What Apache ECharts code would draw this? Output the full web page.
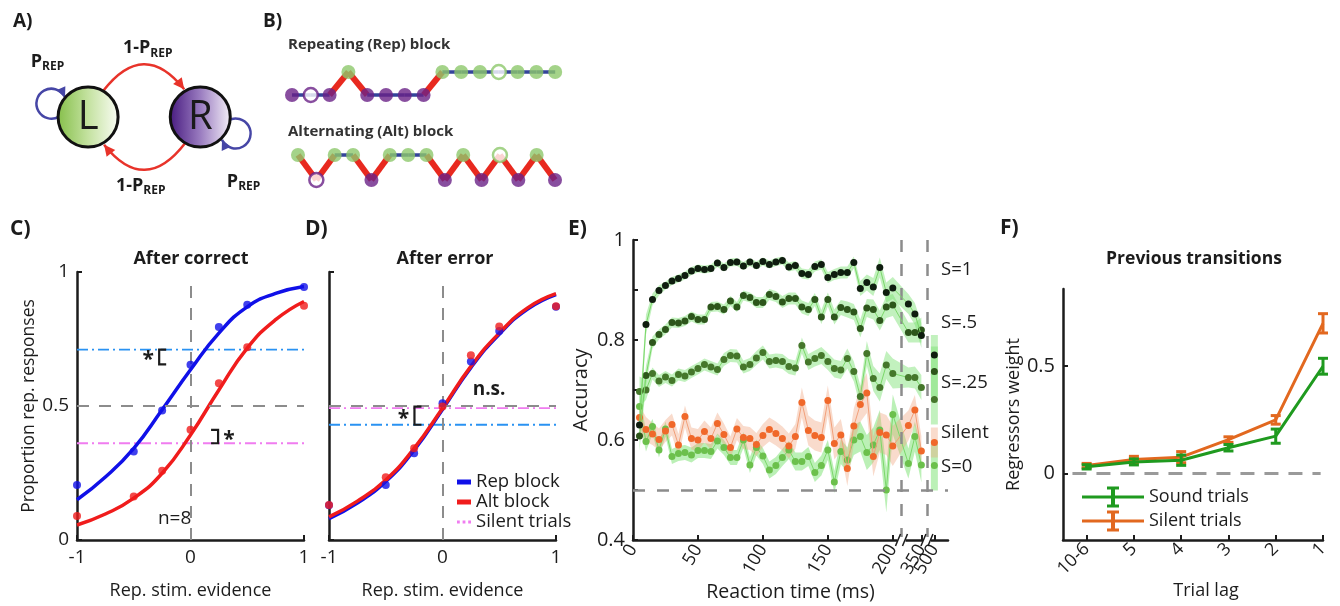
<!DOCTYPE html>
<html>
<head>
<meta charset="UTF-8">
<title>Transition task figure</title>
<style>
  html, body { margin: 0; padding: 0; background: #fff; }
  #main { width: 1340px; height: 606px; }
</style>
</head>
<body>
<div id="main"></div>
<script src="https://cdn.jsdelivr.net/npm/echarts@6/dist/echarts.min.js"></script>
<script>
// ---------- data ----------
// A) two-state Markov diagram
var aNodes = ['L', 'R'];

// B) example trial sequences (L = left/green, R = right/purple); silent trials drawn hollow
var repSeq = ['R','R','R','L','R','R','R','R','L','L','L','L','L','L','L'];
var repSilent = [1, 11];
var altSeq = ['L','R','L','L','R','L','L','L','R','L','R','L','R','L','R'];
var altSilent = [1, 11];

// C/D) psychometric curves
var stimX = [-1, -0.5, -0.25, 0, 0.25, 0.5, 1];
var fitX = [-1, -0.75, -0.5, -0.25, 0, 0.25, 0.5, 0.75, 1];
var cRepDots = [0.205, 0.33, 0.483, 0.654, 0.795, 0.878, 0.944];
var cAltDots = [0.09, 0.162, 0.258, 0.411, 0.585, 0.719, 0.874];
var cRepFit = [0.15, 0.235, 0.342, 0.486, 0.635, 0.772, 0.87, 0.92, 0.946];
var cAltFit = [0.056, 0.097, 0.156, 0.249, 0.392, 0.56, 0.716, 0.822, 0.89];
var cSilentRep = 0.71, cSilentAlt = 0.361;
var dRepDots = [0.13, 0.205, 0.324, 0.51, 0.666, 0.78, 0.87];
var dAltDots = [0.131, 0.234, 0.342, 0.498, 0.689, 0.797, 0.872];
var dRepFit = [0.08, 0.138, 0.218, 0.335, 0.487, 0.643, 0.768, 0.862, 0.916];
var dAltFit = [0.086, 0.145, 0.224, 0.342, 0.492, 0.648, 0.772, 0.866, 0.919];
var dSilentRep = 0.43, dSilentAlt = 0.492;
// significance brackets: [x, low, high, opening side]
var cBrackets = [[-0.276, 0.655, 0.71, 1], [0.243, 0.361, 0.411, -1]];
var dBrackets = [[-0.247, 0.43, 0.498, 1]];
var cNotes = [[-0.14, 0.08]], cNoteText = ['n=8'];
var dNotes = [[0.41, 0.56]], dNoteText = ['n.s.'];

// E) accuracy vs reaction time (last four bins sit after the axis breaks)
var eX = [5,10,15,20,25,30,35,40,45,50,55,60,65,70,75,80,85,90,95,100,
          105,110,115,120,125,130,135,140,145,150,155,160,165,170,175,180,185,190,195,200,
          212,217,222,232];
var eTickPos = [0, 50, 100, 150, 200, 222, 232];
var eTickText = ['0', '50', '100', '150', '200', '350', '500'];
var eBreaks = [206.7, 226.3];
var eS1 = [0.63,0.831,0.881,0.899,0.909,0.918,0.923,0.929,0.938,0.943,
           0.941,0.943,0.954,0.945,0.955,0.956,0.948,0.956,0.949,0.957,
           0.951,0.956,0.959,0.946,0.949,0.933,0.931,0.947,0.951,0.925,
           0.931,0.935,0.935,0.955,0.903,0.915,0.906,0.945,0.895,0.904,
           0.872,0.852,0.809,0.77];
var eS5 = [0.608,0.729,0.795,0.811,0.821,0.835,0.834,0.838,0.847,0.841,
           0.841,0.866,0.867,0.861,0.878,0.866,0.889,0.885,0.875,0.875,
           0.891,0.887,0.876,0.883,0.883,0.866,0.861,0.881,0.846,0.881,
           0.846,0.865,0.861,0.856,0.823,0.864,0.861,0.839,0.866,0.87,
           0.815,0.815,0.82,0.737];
var eS25 = [0.697,0.70,0.733,0.718,0.726,0.719,0.731,0.728,0.736,0.743,
            0.751,0.746,0.741,0.761,0.769,0.768,0.746,0.751,0.764,0.775,
            0.757,0.759,0.757,0.747,0.744,0.789,0.756,0.763,0.769,0.757,
            0.743,0.74,0.763,0.737,0.687,0.773,0.723,0.705,0.75,0.733,
            0.725,0.725,0.705,0.681];
var eSil = [0.645,0.621,0.612,0.601,0.618,0.631,0.59,0.647,0.603,0.60,
            0.617,0.603,0.633,0.611,0.585,0.622,0.605,0.603,0.591,0.609,
            0.621,0.613,0.603,0.588,0.607,0.675,0.619,0.609,0.605,0.679,
            0.593,0.61,0.543,0.628,0.671,0.694,0.567,0.615,0.61,0.588,
            0.629,0.66,0.578,0.595];
var eS0 = [0.667,0.597,0.627,0.58,0.622,0.567,0.573,0.575,0.57,0.579,
           0.579,0.577,0.598,0.585,0.565,0.565,0.60,0.55,0.585,0.568,
           0.54,0.549,0.565,0.58,0.557,0.557,0.567,0.535,0.549,0.58,
           0.516,0.577,0.56,0.60,0.607,0.575,0.59,0.62,0.50,0.651,
           0.553,0.607,0.55,0.549];
// s.e.m. (band half widths)
var eS1Err = [0.03,0.02,0.012,0.01,0.008,0.008,0.008,0.008,0.008,0.008,
              0.008,0.008,0.008,0.008,0.008,0.008,0.008,0.008,0.008,0.008,
              0.008,0.008,0.008,0.009,0.009,0.01,0.01,0.01,0.01,0.011,
              0.011,0.012,0.012,0.012,0.015,0.016,0.018,0.02,0.02,0.022,
              0.02,0.022,0.025,0.04];
var eS5Err = [0.03,0.02,0.012,0.01,0.01,0.01,0.01,0.01,0.01,0.01,
              0.01,0.01,0.01,0.01,0.01,0.01,0.01,0.01,0.011,0.011,
              0.011,0.011,0.012,0.012,0.012,0.013,0.013,0.013,0.014,0.014,
              0.015,0.015,0.016,0.016,0.018,0.018,0.02,0.02,0.022,0.022,
              0.02,0.02,0.025,0.05];
var eS25Err = [0.03,0.02,0.012,0.012,0.012,0.012,0.012,0.012,0.012,0.012,
               0.012,0.012,0.012,0.013,0.013,0.013,0.013,0.013,0.014,0.014,
               0.014,0.014,0.015,0.015,0.015,0.016,0.016,0.016,0.017,0.017,
               0.018,0.018,0.02,0.02,0.022,0.025,0.025,0.028,0.028,0.03,
               0.02,0.022,0.025,0.05];
var eSilErr = [0.025,0.025,0.022,0.022,0.022,0.022,0.022,0.022,0.022,0.022,
               0.022,0.022,0.022,0.022,0.022,0.022,0.023,0.023,0.023,0.023,
               0.024,0.024,0.024,0.025,0.025,0.03,0.03,0.03,0.03,0.03,
               0.032,0.032,0.035,0.035,0.035,0.04,0.04,0.04,0.04,0.04,
               0.03,0.03,0.03,0.03];
var eS0Err = [0.03,0.02,0.015,0.015,0.015,0.015,0.015,0.015,0.015,0.015,
              0.015,0.015,0.015,0.015,0.015,0.015,0.016,0.016,0.016,0.016,
              0.017,0.017,0.017,0.018,0.018,0.018,0.019,0.019,0.02,0.02,
              0.022,0.025,0.025,0.03,0.03,0.035,0.035,0.04,0.045,0.04,
              0.03,0.03,0.035,0.05];
var eRuns = [[0, 42], [43, 43]];
var eLabels = ['S=1', 'S=.5', 'S=.25', 'Silent', 'S=0'];

// F) regression weights by trial lag
var fLag = ['10-6', '5', '4', '3', '2', '1'];
var fSound = [0.031, 0.054, 0.062, 0.12, 0.174, 0.5];
var fSoundErr = [0.01, 0.014, 0.024, 0.015, 0.033, 0.037];
var fSilent = [0.037, 0.065, 0.076, 0.158, 0.25, 0.70];
var fSilentErr = [0.01, 0.015, 0.026, 0.013, 0.02, 0.045];

// ---------- style ----------
var FONT = "'Open Sans', 'Liberation Sans', sans-serif";
var INK = '#1c1c1c';
var BLUE = '#1010e8', RED = '#f01c1c', SKY = '#2a92f2', PINK = '#f07cf0';
var GRAY = '#8c8c8c';
var GREEN = '#8dc86c', PURPLE = '#6a2287';
var F_GREEN = '#1f9a1f', F_ORANGE = '#e2681f';

var chart = echarts.init(document.getElementById('main'));

function axis(o) {
  var base = {
    type: 'value',
    nameLocation: 'middle',
    axisLine: {onZero: false, lineStyle: {color: INK, width: 2.5}},
    axisTick: {inside: true, length: 5, lineStyle: {color: INK, width: 2}},
    axisLabel: {color: INK, fontSize: 19, fontFamily: FONT, margin: 8, hideOverlap: false},
    splitLine: {show: false},
    nameTextStyle: {color: INK, fontSize: 18, fontFamily: FONT}
  };
  var out = {};
  Object.keys(base).forEach(function (k) { out[k] = base[k]; });
  Object.keys(o).forEach(function (k) {
    if (base[k] && typeof base[k] === 'object' && typeof o[k] === 'object') {
      out[k] = Object.assign({}, base[k], o[k]);
    } else {
      out[k] = o[k];
    }
  });
  return out;
}
function hidden(g, min, max) {
  return {gridIndex: g, type: 'value', min: min, max: max, show: false};
}
function txt(s, x, y, size, bold, align) {
  return {
    type: 'text', x: x, y: y, silent: true,
    style: {text: s, fontSize: size, fontWeight: bold ? 'bold' : 'normal', fontFamily: FONT,
            fill: INK, align: align || 'left', verticalAlign: 'middle'}
  };
}
function arrowHead(tip, dir, color, len, half) {
  var d = Math.sqrt(dir[0] * dir[0] + dir[1] * dir[1]);
  var ux = dir[0] / d, uy = dir[1] / d;
  var bx = tip[0] - ux * len, by = tip[1] - uy * len;
  return {type: 'polygon', shape: {points: [tip, [bx - uy * half, by + ux * half], [bx + uy * half, by - ux * half]]},
          style: {fill: color}};
}
function subLabel(main, x, y) {
  return {type: 'text', x: x, y: y,
    style: {text: '{m|' + main + '}{s|REP}', align: 'center', verticalAlign: 'middle', fill: INK,
      rich: {m: {fontSize: 18, fontWeight: 'bold', fontFamily: FONT, fill: INK},
             s: {fontSize: 12, fontWeight: 'bold', fontFamily: FONT, fill: INK, padding: [10, 0, 0, 0]}}}};
}
function eLabelFmt(v) { return eTickText[eTickPos.indexOf(v)]; }

// ---------- A) diagram ----------
function renderDiagram(params, api) {
  var i = params.dataIndex;
  var p = api.coord([api.value(0), 0]);
  var q = api.coord([1 - api.value(0), 0]);
  var r = 30, rad = Math.PI / 180;
  var s = i === 0 ? -1 : 1;
  var kids = [];
  // transition arc to the other state
  var a = i === 0 ? -60 * rad : 120 * rad, b = Math.PI - a;
  var st = [p[0] + r * Math.cos(a), p[1] + r * Math.sin(a)];
  var en = [q[0] + (r + 2) * Math.cos(b), q[1] + (r + 2) * Math.sin(b)];
  var cp = [(st[0] + en[0]) / 2, (st[1] + en[1]) / 2 + s * 52];
  kids.push({type: 'bezierCurve', shape: {x1: st[0], y1: st[1], x2: en[0], y2: en[1], cpx1: cp[0], cpy1: cp[1]},
             style: {stroke: '#e8332a', lineWidth: 2.5, fill: null}});
  kids.push(arrowHead(en, [en[0] - cp[0], en[1] - cp[1]], '#e8332a', 11, 5.5));
  var apex = [(st[0] + en[0]) / 2, (st[1] + en[1]) / 2 + s * 26];
  kids.push(subLabel('1-P', apex[0] - s * 4, apex[1] + s * 16));
  // self loop
  var c = (i === 0 ? 200 : 25) * rad;
  var lc = [p[0] + (r + 9) * Math.cos(c), p[1] + (r + 9) * Math.sin(c)];
  var sa = (i === 0 ? 60 : 240), ea = sa + 275;
  kids.push({type: 'arc', shape: {cx: lc[0], cy: lc[1], r: 15, startAngle: sa * rad, endAngle: ea * rad, clockwise: true},
             style: {stroke: '#4646a6', lineWidth: 2.5, fill: null}});
  var e = ea * rad;
  kids.push(arrowHead([lc[0] + 15 * Math.cos(e), lc[1] + 15 * Math.sin(e)], [-Math.sin(e), Math.cos(e)], '#4646a6', 10, 5));
  kids.push(subLabel('P', lc[0] + (i === 0 ? -4 : 8), lc[1] + (i === 0 ? -42 : 48)));
  // state node
  var grad = i === 0
    ? new echarts.graphic.LinearGradient(0, 0, 1, 0, [{offset: 0, color: '#84be48'}, {offset: 0.5, color: '#c4e2a0'}, {offset: 1, color: '#fbfdf7'}])
    : new echarts.graphic.LinearGradient(0, 0, 1, 0, [{offset: 0, color: '#45187e'}, {offset: 0.5, color: '#9a7cc0'}, {offset: 1, color: '#f7f3fa'}]);
  kids.push({type: 'circle', shape: {cx: p[0], cy: p[1], r: r}, style: {fill: grad, stroke: '#111', lineWidth: 3}});
  kids.push({type: 'text', x: p[0], y: p[1] + 1,
             style: {text: api.value(2), fontSize: 40, fontFamily: FONT, fill: '#1a1a1a', align: 'center', verticalAlign: 'middle'}});
  return {type: 'group', children: kids};
}

// ---------- B) sequences ----------
function side(d) { return d === 'L' ? 1 : 0; }
function seqLinks(seq) {
  return seq.slice(0, -1).map(function (d, i) { return [i, side(d), side(seq[i + 1])]; });
}
function renderLink(params, api) {
  var i = api.value(0), v1 = api.value(1), v2 = api.value(2);
  var p1 = api.coord([i, v1]), p2 = api.coord([i + 1, v2]);
  var same = v1 === v2;
  return {type: 'line', shape: {x1: p1[0], y1: p1[1], x2: p2[0], y2: p2[1]},
          style: same ? {stroke: '#34449a', lineWidth: 3.5} : {stroke: '#e8291f', lineWidth: 6}};
}
function seqDots(seq, silent) {
  return seq.map(function (d, i) {
    var col = d === 'L' ? GREEN : PURPLE;
    var hollow = silent.indexOf(i) >= 0;
    return {value: [i, side(d)],
            itemStyle: {color: hollow ? '#fff' : col, borderColor: col, borderWidth: hollow ? 2.5 : 0}};
  });
}

// ---------- helpers for C/D ----------
function pairs(xs, ys) { return xs.map(function (x, i) { return [x, ys[i]]; }); }
function renderBracket(params, api) {
  var x = api.value(0), lo = api.value(1), hi = api.value(2), dir = api.value(3);
  var p1 = api.coord([x, hi]), p2 = api.coord([x, lo]);
  var w = 7;
  return {type: 'group', children: [
    {type: 'polyline', shape: {points: [[p1[0] + dir * w, p1[1]], p1, p2, [p2[0] + dir * w, p2[1]]]},
     style: {stroke: INK, lineWidth: 2.2, fill: null}},
    {type: 'text', x: p1[0] - dir * 11, y: (p1[1] + p2[1]) / 2 + 3,
     style: {text: '*', fontSize: 21, fontWeight: 'bold', fontFamily: FONT, fill: INK, align: 'center', verticalAlign: 'middle'}}
  ]};
}
function noteRenderer(texts, size, bold) {
  return function (params, api) {
    var p = api.coord([api.value(0), api.value(1)]);
    return {type: 'text', x: p[0], y: p[1],
            style: {text: texts[params.dataIndex], fontSize: size, fontWeight: bold ? 'bold' : 'normal',
                    fontFamily: FONT, fill: INK, align: 'center', verticalAlign: 'middle'}};
  };
}
function psychSeries(g, repFit, altFit, repDots, altDots, silRep, silAlt) {
  var dashDot = [11, 4, 2, 4];
  return [
    {type: 'line', name: 'Silent trials (rep)', xAxisIndex: g, yAxisIndex: g, data: [[-1, silRep], [1, silRep]],
     showSymbol: false, silent: true, lineStyle: {color: SKY, width: 1.8, type: dashDot}, z: 2,
     markLine: {silent: true, symbol: 'none', label: {show: false},
       lineStyle: {color: GRAY, type: [12, 10], width: 2},
       data: [{yAxis: 0.5}, [{coord: [0, 0]}, {coord: [0, 0.95]}]]}},
    {type: 'line', name: 'Silent trials', xAxisIndex: g, yAxisIndex: g, data: [[-1, silAlt], [1, silAlt]],
     showSymbol: false, silent: true, lineStyle: {color: PINK, width: 1.8, type: dashDot}, z: 2},
    {type: 'line', name: 'Rep block', xAxisIndex: g, yAxisIndex: g, data: pairs(fitX, repFit), smooth: true,
     showSymbol: false, lineStyle: {color: BLUE, width: 3.5}, z: 3},
    {type: 'line', name: 'Alt block', xAxisIndex: g, yAxisIndex: g, data: pairs(fitX, altFit), smooth: true,
     showSymbol: false, lineStyle: {color: RED, width: 3.5}, z: 4},
    {type: 'scatter', xAxisIndex: g, yAxisIndex: g, data: pairs(stimX, repDots), symbolSize: 8,
     itemStyle: {color: BLUE}, z: 5},
    {type: 'scatter', xAxisIndex: g, yAxisIndex: g, data: pairs(stimX, altDots), symbolSize: 8,
     itemStyle: {color: RED}, z: 6}
  ];
}

// ---------- helpers for E ----------
function bandRenderer(vals, errs, color) {
  return function (params, api) {
    var kids = [];
    eRuns.forEach(function (run) {
      if (run[0] === run[1]) {
        var k = run[0];
        var t = api.coord([eX[k], vals[k] + errs[k]]), b = api.coord([eX[k], vals[k] - errs[k]]);
        kids.push({type: 'rect', shape: {x: t[0] - 3.5, y: t[1], width: 7, height: b[1] - t[1]}, style: {fill: color}});
        return;
      }
      var up = [], dn = [];
      for (var j = run[0]; j <= run[1]; j++) {
        up.push(api.coord([eX[j], vals[j] + errs[j]]));
        dn.unshift(api.coord([eX[j], vals[j] - errs[j]]));
      }
      kids.push({type: 'polygon', shape: {points: up.concat(dn)}, style: {fill: color}});
    });
    return {type: 'group', children: kids};
  };
}
function eLine(vals, lineColor, dotColor, z) {
  var last = eRuns[1][0];
  var data = pairs(eX.slice(0, last), vals.slice(0, last));
  data.push([eBreaks[1], '-']);
  data.push([eX[last], vals[last]]);
  return {type: 'line', xAxisIndex: 5, yAxisIndex: 5, data: data, symbol: 'circle', symbolSize: 7,
          showSymbol: true, connectNulls: false, silent: true,
          lineStyle: {color: lineColor, width: 1}, itemStyle: {color: dotColor}, z: z};
}
function eBand(vals, errs, color) {
  return {type: 'custom', xAxisIndex: 5, yAxisIndex: 5, data: [[eX[0], vals[0]]], silent: true,
          renderItem: bandRenderer(vals, errs, color), z: 1};
}
function renderBreak(params, api) {
  var p = api.coord([api.value(0), 0.4]);
  return {type: 'group', children: [
    {type: 'rect', shape: {x: p[0] - 4, y: p[1] - 3, width: 8, height: 6}, style: {fill: '#fff'}},
    {type: 'line', shape: {x1: p[0] - 6, y1: p[1] + 6, x2: p[0] - 1, y2: p[1] - 6}, style: {stroke: INK, lineWidth: 1.5}},
    {type: 'line', shape: {x1: p[0] + 1, y1: p[1] + 6, x2: p[0] + 6, y2: p[1] - 6}, style: {stroke: INK, lineWidth: 1.5}}
  ]};
}

// ---------- helpers for F ----------
function errRenderer(color) {
  return function (params, api) {
    var x = api.value(0);
    var t = api.coord([x, api.value(2)]), b = api.coord([x, api.value(1)]);
    var w = 5;
    return {type: 'group', children: [
      {type: 'line', shape: {x1: t[0], y1: t[1], x2: b[0], y2: b[1]}, style: {stroke: color, lineWidth: 3}},
      {type: 'line', shape: {x1: t[0] - w, y1: t[1], x2: t[0] + w, y2: t[1]}, style: {stroke: color, lineWidth: 3}},
      {type: 'line', shape: {x1: b[0] - w, y1: b[1], x2: b[0] + w, y2: b[1]}, style: {stroke: color, lineWidth: 3}}
    ]};
  };
}
function errData(vals, errs) {
  return vals.map(function (v, i) { return [i, v - errs[i], v + errs[i]]; });
}
var errIcon = 'path://M0,9h62v3h-62z M29,1h4v19h-4z M25,0h12v3h-12z M25,18h12v3h-12z';
var dotIcon = 'path://M0,0h3v3h-3z M6,0h3v3h-3z M12,0h3v3h-3z';

var lagIdx = fLag.map(function (d, i) { return i; });
// E labels split across two bottom axes so the close 350/500 pair both stay visible
var eMainLabels = eTickPos.filter(function (v, i) { return i !== eTickPos.length - 2; });
var eExtraLabels = [eTickPos[eTickPos.length - 2]];

var option = {
  animation: false,
  backgroundColor: '#fff',
  textStyle: {fontFamily: FONT},
  title: [
    {text: 'After correct', left: 191, top: 250, textAlign: 'center', padding: 0,
     textStyle: {fontSize: 18, fontWeight: 'bold', fontFamily: FONT, color: INK}},
    {text: 'After error', left: 445, top: 250, textAlign: 'center', padding: 0,
     textStyle: {fontSize: 18, fontWeight: 'bold', fontFamily: FONT, color: INK}},
    {text: 'Previous transitions', left: 1194, top: 250, textAlign: 'center', padding: 0,
     textStyle: {fontSize: 17.5, fontWeight: 'bold', fontFamily: FONT, color: INK}}
  ],
  legend: [
    {orient: 'vertical', left: 457, top: 472, padding: 0, itemWidth: 14, itemHeight: 5, itemGap: 0,
     textStyle: {fontSize: 18.5, color: INK, fontFamily: FONT, lineHeight: 20},
     data: [{name: 'Rep block', icon: 'rect', itemStyle: {color: BLUE}},
            {name: 'Alt block', icon: 'rect', itemStyle: {color: RED}},
            {name: 'Silent trials', icon: dotIcon, itemStyle: {color: PINK}}]},
    {orient: 'vertical', left: 1082, top: 485, padding: 0, itemWidth: 62, itemHeight: 21, itemGap: 0,
     textStyle: {fontSize: 18, color: INK, fontFamily: FONT, lineHeight: 24},
     data: [{name: 'Sound trials', icon: errIcon, itemStyle: {color: F_GREEN}},
            {name: 'Silent trials ', icon: errIcon, itemStyle: {color: F_ORANGE}}]}
  ],
  grid: [
    {left: 32, width: 258, top: 37, height: 160},
    {left: 282.6, width: 282, top: 60.5, height: 46},
    {left: 288.8, width: 275.4, top: 142.5, height: 50},
    {left: 77, right: 1036, top: 272, bottom: 66},
    {left: 329, right: 784, top: 272, bottom: 66},
    {left: 633, right: 392, top: 240, bottom: 66},
    {left: 1063, right: 17, top: 289, bottom: 66}
  ],
  xAxis: [
    hidden(0, -0.5, 1.8),
    hidden(1, -0.5, 14.5),
    hidden(2, -0.5, 14.5),
    axis({gridIndex: 3, min: -1, max: 1, interval: 1, name: 'Rep. stim. evidence', nameGap: 42}),
    axis({gridIndex: 4, min: -1, max: 1, interval: 1, name: 'Rep. stim. evidence', nameGap: 42}),
    axis({gridIndex: 5, min: 0, max: 242.5, name: 'Reaction time (ms)', nameGap: 42,
          nameTextStyle: {fontSize: 19.5},
          axisTick: {customValues: eTickPos},
          axisLabel: {customValues: eMainLabels, rotate: 60, fontSize: 18, margin: 6, formatter: eLabelFmt}}),
    axis({gridIndex: 6, min: -0.5, max: 5, name: 'Trial lag', nameGap: 42,
          nameTextStyle: {fontSize: 18, padding: [0, 0, 0, 26]},
          axisTick: {customValues: lagIdx},
          axisLabel: {customValues: lagIdx, rotate: 45, fontSize: 18, margin: 6,
                      formatter: function (v) { return fLag[v]; }}}),
    axis({gridIndex: 5, min: 0, max: 242.5, position: 'bottom', offset: 0,
          axisLine: {show: false}, axisTick: {show: false},
          axisLabel: {customValues: eExtraLabels, rotate: 60, fontSize: 18, margin: 6, formatter: eLabelFmt}})
  ],
  yAxis: [
    hidden(0, -1, 1),
    hidden(1, -0.5, 1.5),
    hidden(2, -0.5, 1.5),
    axis({gridIndex: 3, min: 0, max: 1, interval: 0.5, name: 'Proportion rep. responses', nameGap: 38,
          nameTextStyle: {fontSize: 17.5}}),
    axis({gridIndex: 4, min: 0, max: 1, interval: 0.5, axisLabel: {show: false}}),
    axis({gridIndex: 5, min: 0.4, max: 1, name: 'Accuracy', nameGap: 42,
          nameTextStyle: {fontSize: 20},
          axisTick: {customValues: [0.4, 0.5, 0.6, 0.7, 0.8, 0.9, 1]},
          axisLabel: {customValues: [0.4, 0.6, 0.8, 1], fontSize: 20}}),
    axis({gridIndex: 6, min: -0.31, max: 0.86, name: 'Regressors weight', nameGap: 37,
          nameTextStyle: {fontSize: 18},
          axisTick: {customValues: [0, 0.5]},
          axisLabel: {customValues: [0, 0.5], fontSize: 20}})
  ],
  graphic: [
    txt('A)', 13, 22, 19, true),
    txt('B)', 263, 22, 19, true),
    txt('C)', 10, 229, 21, true),
    txt('D)', 305, 229, 21, true),
    txt('E)', 568, 229, 21, true),
    txt('F)', 1000, 228, 21, true),
    {type: 'text', x: 288, y: 45, style: {text: 'Repeating (Rep) block', fontSize: 15, fontWeight: 'bold',
      fontFamily: FONT, fill: '#333', align: 'left', verticalAlign: 'middle'}},
    {type: 'text', x: 288, y: 132, style: {text: 'Alternating (Alt) block', fontSize: 15, fontWeight: 'bold',
      fontFamily: FONT, fill: '#333', align: 'left', verticalAlign: 'middle'}},
    txt(eLabels[0], 941, 270, 18.5, false),
    txt(eLabels[1], 941, 323, 18.5, false),
    txt(eLabels[2], 941, 383, 18.5, false),
    txt(eLabels[3], 941, 433, 18.5, false),
    txt(eLabels[4], 941, 467, 18.5, false)
  ],
  series: [].concat(
    // A
    [{type: 'custom', xAxisIndex: 0, yAxisIndex: 0, silent: true,
      data: aNodes.map(function (n, i) { return [i, 0, n]; }), renderItem: renderDiagram}],
    // B
    [{type: 'custom', xAxisIndex: 1, yAxisIndex: 1, silent: true, data: seqLinks(repSeq), renderItem: renderLink, z: 1},
     {type: 'scatter', xAxisIndex: 1, yAxisIndex: 1, silent: true, symbolSize: 14, data: seqDots(repSeq, repSilent), z: 2},
     {type: 'custom', xAxisIndex: 2, yAxisIndex: 2, silent: true, data: seqLinks(altSeq), renderItem: renderLink, z: 1},
     {type: 'scatter', xAxisIndex: 2, yAxisIndex: 2, silent: true, symbolSize: 14, data: seqDots(altSeq, altSilent), z: 2}],
    // C
    psychSeries(3, cRepFit, cAltFit, cRepDots, cAltDots, cSilentRep, cSilentAlt),
    [{type: 'custom', xAxisIndex: 3, yAxisIndex: 3, silent: true, data: cBrackets, renderItem: renderBracket, z: 7},
     {type: 'custom', xAxisIndex: 3, yAxisIndex: 3, silent: true, data: cNotes, renderItem: noteRenderer(cNoteText, 19, false), z: 7}],
    // D
    psychSeries(4, dRepFit, dAltFit, dRepDots, dAltDots, dSilentRep, dSilentAlt),
    [{type: 'custom', xAxisIndex: 4, yAxisIndex: 4, silent: true, data: dBrackets, renderItem: renderBracket, z: 7},
     {type: 'custom', xAxisIndex: 4, yAxisIndex: 4, silent: true, data: dNotes, renderItem: noteRenderer(dNoteText, 19, true), z: 7}],
    // E
    [eBand(eS1, eS1Err, 'rgba(120,225,110,0.45)'),
     eBand(eS5, eS5Err, 'rgba(120,225,110,0.45)'),
     eBand(eS25, eS25Err, 'rgba(120,225,110,0.45)'),
     eBand(eS0, eS0Err, 'rgba(120,225,110,0.5)'),
     eBand(eSil, eSilErr, 'rgba(240,160,120,0.38)'),
     (function () {
       var s = eLine(eS0, '#7bd86a', '#6cc04c', 3);
       s.markLine = {silent: true, symbol: 'none', label: {show: false},
                     lineStyle: {color: GRAY, type: [12, 12], width: 2.5},
                     data: [{xAxis: eBreaks[0]}, {xAxis: eBreaks[1]}, {yAxis: 0.5}]};
       return s;
     })(),
     eLine(eSil, '#f2a07a', '#f0682a', 4),
     eLine(eS25, '#7bd86a', '#45772b', 5),
     eLine(eS5, '#7bd86a', '#2d561b', 6),
     eLine(eS1, '#7bd86a', '#0f1d0f', 7),
     {type: 'custom', xAxisIndex: 5, yAxisIndex: 5, silent: true, data: eBreaks.map(function (x) { return [x, 0.4]; }),
      renderItem: renderBreak, z: 8}],
    // F
    [{type: 'line', name: 'Silent trials ', xAxisIndex: 6, yAxisIndex: 6, data: pairs(lagIdx, fSilent),
      showSymbol: false, lineStyle: {color: F_ORANGE, width: 3}, itemStyle: {color: F_ORANGE}, z: 3,
      markLine: {silent: true, symbol: 'none', label: {show: false},
                 lineStyle: {color: '#9a9a9a', type: [14, 10], width: 3},
                 data: [[{coord: [-0.3, 0]}, {coord: [4.95, 0]}]]}},
     {type: 'custom', xAxisIndex: 6, yAxisIndex: 6, silent: true, data: errData(fSilent, fSilentErr),
      renderItem: errRenderer(F_ORANGE), z: 3},
     {type: 'line', name: 'Sound trials', xAxisIndex: 6, yAxisIndex: 6, data: pairs(lagIdx, fSound),
      showSymbol: false, lineStyle: {color: F_GREEN, width: 3}, itemStyle: {color: F_GREEN}, z: 4},
     {type: 'custom', xAxisIndex: 6, yAxisIndex: 6, silent: true, data: errData(fSound, fSoundErr),
      renderItem: errRenderer(F_GREEN), z: 4}]
  )
};

chart.setOption(option);
</script>
</body>
</html>
